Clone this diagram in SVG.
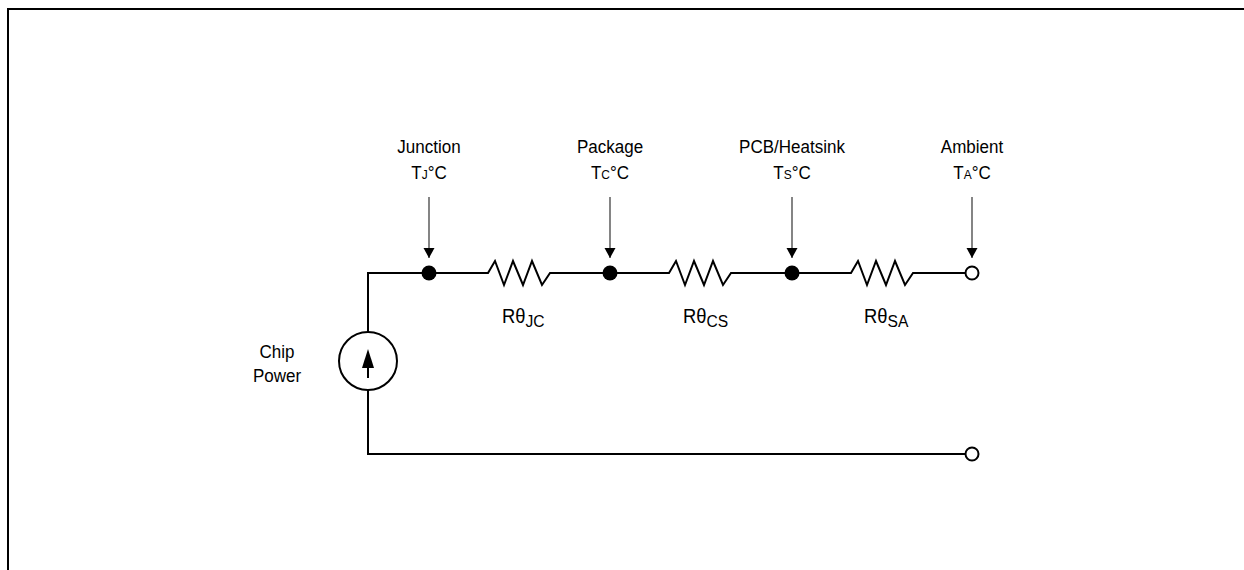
<svg xmlns="http://www.w3.org/2000/svg" width="1244" height="570" viewBox="0 0 1244 570">
<style>
text{font-family:"Liberation Sans",Arial,sans-serif;fill:#000}
.lbl{font-size:18.5px;text-anchor:middle}
.rl{font-size:20px}
.wire{fill:none;stroke:#000;stroke-width:2}
.ptr{stroke:#333;stroke-width:1.2;fill:none}
.dot{fill:#000}
.open{fill:#fff;stroke:#000;stroke-width:2}
</style>
<defs>
<marker id="ah" markerWidth="11" markerHeight="15" refX="10" refY="7.5" orient="auto" markerUnits="userSpaceOnUse">
<path d="M0,2 L10,7.5 L0,13 Z" fill="#000"/>
</marker>
</defs>
<rect x="8" y="9" width="1300" height="600" fill="none" stroke="#000" stroke-width="2"/>
<g id="connectors">
<path class="wire" d="M368,332 V273 H488 L495,261 L504,285 L513,261 L523,285 L532,261 L542,285 L550,273 H669 L676,261 L685,285 L694,261 L704,285 L713,261 L723,285 L731,273 H851 L858,261 L867,285 L876,261 L886,285 L895,261 L905,285 L913,273 H965"/>
<path class="wire" d="M368,390 V454 H966"/>
<line class="ptr" x1="429" y1="197" x2="429" y2="258" marker-end="url(#ah)"/>
<line class="ptr" x1="610" y1="197" x2="610" y2="258" marker-end="url(#ah)"/>
<line class="ptr" x1="792" y1="197" x2="792" y2="258" marker-end="url(#ah)"/>
<line class="ptr" x1="972" y1="197" x2="972" y2="258" marker-end="url(#ah)"/>
</g>
<g id="source">
<circle cx="368" cy="361" r="29" fill="none" stroke="#000" stroke-width="2"/>
<line x1="368" y1="378" x2="368" y2="360" stroke="#000" stroke-width="2"/>
<path d="M368,349 L374,368 L362,368 Z" fill="#000"/>
<text class="lbl" transform="translate(277 358) scale(0.92 1)">Chip</text>
<text class="lbl" transform="translate(277 382) scale(0.92 1)">Power</text>
</g>
<g id="junction">
<circle class="dot" cx="429" cy="273" r="7.5"/>
<text class="lbl" transform="translate(429 153) scale(0.92 1)">Junction</text>
<text class="lbl" transform="translate(429 179) scale(0.92 1)">T<tspan font-size="13">J</tspan>°C</text>
</g>
<g id="package">
<circle class="dot" cx="610" cy="273" r="7.5"/>
<text class="lbl" transform="translate(610 153) scale(0.92 1)">Package</text>
<text class="lbl" transform="translate(610 179) scale(0.92 1)">T<tspan font-size="13">C</tspan>°C</text>
</g>
<g id="pcb">
<circle class="dot" cx="792" cy="273" r="7.5"/>
<text class="lbl" transform="translate(792 153) scale(0.92 1)">PCB/Heatsink</text>
<text class="lbl" transform="translate(792 179) scale(0.92 1)">T<tspan font-size="13">S</tspan>°C</text>
</g>
<g id="ambient">
<circle class="open" cx="972" cy="273" r="6.5"/>
<text class="lbl" transform="translate(972 153) scale(0.92 1)">Ambient</text>
<text class="lbl" transform="translate(972 179) scale(0.92 1)">T<tspan font-size="13">A</tspan>°C</text>
</g>
<g id="ground">
<circle class="open" cx="972" cy="454" r="6.5"/>
</g>
<g id="labels">
<text class="rl" transform="translate(502 323) scale(0.92 1)">Rθ<tspan font-size="17" dy="4">JC</tspan></text>
<text class="rl" transform="translate(683 323) scale(0.92 1)">Rθ<tspan font-size="17" dy="4">CS</tspan></text>
<text class="rl" transform="translate(864 323) scale(0.92 1)">Rθ<tspan font-size="17" dy="4">SA</tspan></text>
</g>
</svg>
